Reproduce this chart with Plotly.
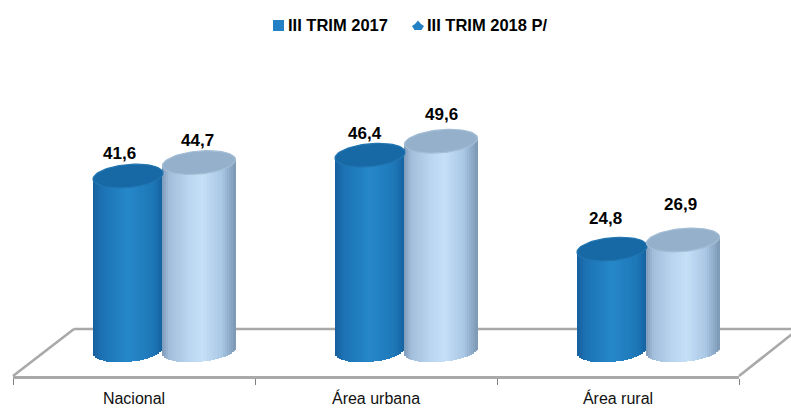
import math
import plotly.graph_objects as go

categories = ["Nacional", "Área urbana", "Área rural"]
serie_2017 = [41.6, 46.4, 24.8]
serie_2018 = [44.7, 49.6, 26.9]
name_2017 = "III TRIM 2017"
name_2018 = "III TRIM 2018 P/"
labels_2017 = ["41,6", "46,4", "24,8"]
labels_2018 = ["44,7", "49,6", "26,9"]

W, H = 791, 409
L, R, AXY = 13, 739, 376
PX_PER_UNIT = 4.35
ZERO_PX = 357
FONT = "Liberation Sans"
GREY = "#a9a9a9"
KEY = "#2480c4"


def hex2rgb(c):
    return tuple(int(c[i:i + 2], 16) for i in (1, 3, 5))


def shade(stops, u):
    for (u0, c0), (u1, c1) in zip(stops, stops[1:]):
        if u <= u1:
            f = (u - u0) / (u1 - u0)
            a, b = hex2rgb(c0), hex2rgb(c1)
            return "rgb(%d,%d,%d)" % tuple(round(a[i] + f * (b[i] - a[i])) for i in range(3))
    return stops[-1][1]


styles = [
    dict(name=name_2017, values=serie_2017, labels=labels_2017, off=-6 / 242, rx=35 / 242,
         cap="#1769a6", rim="#2176b2", edge="#176aa8",
         stops=[(0, "#175f9e"), (0.12, "#1c72b3"), (0.5, "#2587c9"), (0.85, "#1e78b8"), (1, "#15619f")],
         dx=[-8.5, -5, -7], dy=[23, 22, 31]),
    dict(name=name_2018, values=serie_2018, labels=labels_2018, off=65 / 242, rx=36.5 / 242,
         cap="#95b0ca", rim="#a4bdd6", edge="#8ea9c6",
         stops=[(0, "#7d9ab8"), (0.1, "#a3bedb"), (0.35, "#b9d5f0"), (0.55, "#c5dff6"), (0.82, "#a9c6e4"), (0.93, "#8dabc9"), (1, "#7b97b4")],
         dx=[-2, 0.5, -3], dy=[22.5, 27, 35]),
]

RY = 11.5 / PX_PER_UNIT
TILT = 3 / PX_PER_UNIT
BASE = 6.5 / PX_PER_UNIT
SLICES = 36

fig = go.Figure()
annotations = []
for s in styles:
    xs = [i + s["off"] for i in range(len(categories))]
    # solid body, carries the values
    fig.add_trace(go.Bar(x=xs, y=[v - BASE for v in s["values"]], base=[BASE] * 3, width=2 * s["rx"] * 0.98,
                         marker=dict(color=s["edge"], line_width=0), showlegend=False, hoverinfo="skip"))
    # vertical slices give the round shading and the curved bottom
    for k in range(SLICES):
        t = -1 + (2 * k + 1) / SLICES
        bottom = BASE - RY * math.sqrt(1 - t * t) + TILT * t
        fig.add_trace(go.Bar(x=[x + t * s["rx"] for x in xs],
                             y=[v + TILT * t - bottom for v in s["values"]],
                             base=[bottom] * 3,
                             width=2 * s["rx"] / SLICES * 1.2,
                             marker=dict(color=shade(s["stops"], (t + 1) / 2), line_width=0),
                             showlegend=False, hoverinfo="skip"))
    # elliptical caps
    for x, v in zip(xs, s["values"]):
        th = [2 * math.pi * a / 72 for a in range(73)]
        fig.add_trace(go.Scatter(x=[x + s["rx"] * math.cos(a) for a in th],
                                 y=[v + RY * math.sin(a) + TILT * math.cos(a) for a in th],
                                 mode="lines", fill="toself", fillcolor=s["cap"],
                                 line=dict(color=s["rim"], width=1.2),
                                 showlegend=False, hoverinfo="skip"))
    for x, v, txt, dx, dy in zip(xs, s["values"], s["labels"], s["dx"], s["dy"]):
        annotations.append(dict(x=x, y=v, text=txt, showarrow=False, xshift=dx, yshift=dy,
                                xanchor="center", yanchor="middle",
                                font=dict(family=FONT, size=17, color="#000000", weight=700)))

# legend entries: the text comes from the legends, the keys sit closer to it as drawn shapes below
fig.add_trace(go.Scatter(x=[None], y=[None], mode="markers", name=name_2017, legend="legend",
                         marker=dict(symbol="square", size=10, color="rgba(0,0,0,0)")))
fig.add_trace(go.Scatter(x=[None], y=[None], mode="markers", name=name_2018, legend="legend2",
                         marker=dict(symbol="diamond", size=11, color="rgba(0,0,0,0)")))


def px(x):
    return (x - L) / (R - L)


def py(y):
    return (AXY - y) / AXY


floor = [((L, AXY), (74, 329)), ((74, 329), (W + 5, 329)), ((R, AXY), (W + 5, 331))]
shapes = [dict(type="line", xref="paper", yref="paper", x0=px(a[0]), y0=py(a[1]), x1=px(b[0]), y1=py(b[1]),
               line=dict(color=GREY, width=2.6), layer="below") for a, b in floor]
shapes.append(dict(type="rect", xref="paper", yref="paper", x0=px(273), x1=px(284), y0=py(31), y1=py(20),
                   fillcolor=KEY, line_width=0))
blob = [(412, 26), (415, 24), (418, 20.5), (421, 24), (424, 26), (421.5, 30), (414.5, 30)]
shapes.append(dict(type="path", xref="paper", yref="paper",
                   path="M" + " L".join(f"{px(a):.5f},{py(b):.5f}" for a, b in blob) + " Z",
                   fillcolor=KEY, line_width=0))

legend_font = dict(family=FONT, size=16.5, color="#000000", weight=700)
fig.update_layout(
    width=W, height=H, autosize=False,
    margin=dict(l=L, r=W - R, t=0, b=H - AXY, pad=0),
    paper_bgcolor="white", plot_bgcolor="rgba(0,0,0,0)",
    barmode="overlay", bargap=0,
    showlegend=True,
    legend=dict(orientation="h", x=px(248), y=py(7), xanchor="left", yanchor="top",
                font=legend_font, bgcolor="rgba(0,0,0,0)"),
    legend2=dict(orientation="h", x=px(387), y=py(7), xanchor="left", yanchor="top",
                 font=legend_font, bgcolor="rgba(0,0,0,0)"),
    shapes=shapes, annotations=annotations,
    xaxis=dict(range=[-0.5, 2.5], tickmode="array", tickvals=[0, 1, 2], ticktext=categories,
               ticks="", showgrid=False, zeroline=False, showline=True, linecolor=GREY, linewidth=2.6,
               tickfont=dict(family=FONT, size=16, color="#111111"), ticklabelstandoff=6,
               minor=dict(tickmode="array", tickvals=[-0.5, 0.5, 1.5, 2.5], ticks="outside", ticklen=6,
                          tickcolor="#7f7f7f", tickwidth=1, showgrid=False)),
    yaxis=dict(range=[(ZERO_PX - AXY) / PX_PER_UNIT, ZERO_PX / PX_PER_UNIT], visible=False, fixedrange=True),
)
fig.write_html("out.html", config=dict(displayModeBar=False),
               post_script="document.body.style.margin='0';document.body.style.overflow='hidden';")
